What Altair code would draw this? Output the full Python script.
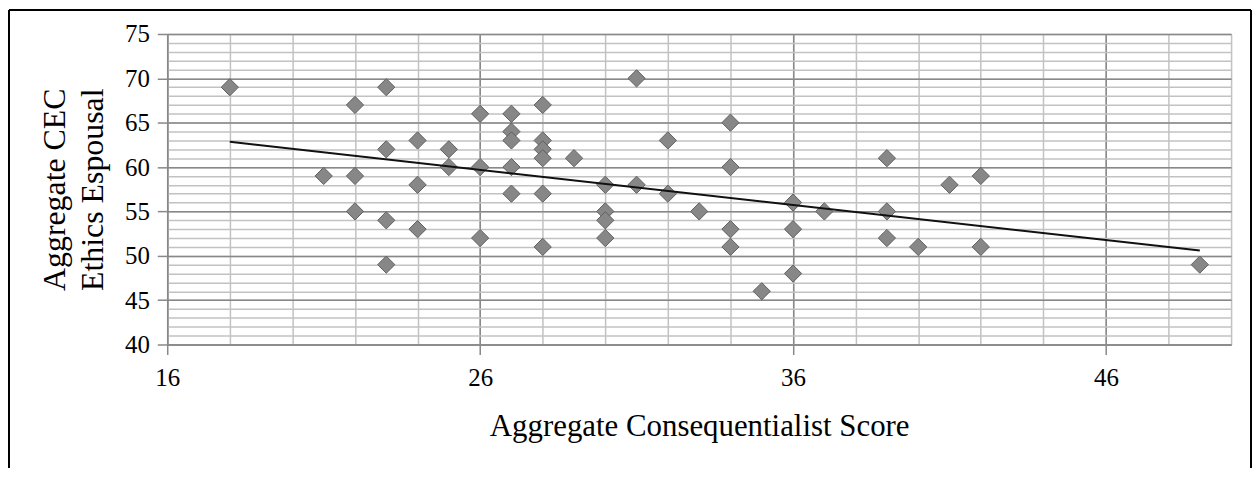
import altair as alt
import pandas as pd

# Aggregate Consequentialist Score (x) and Aggregate CEC Ethics Espousal (y)
score = [18, 21, 22, 22, 22, 23, 23, 23, 23, 24, 24, 24, 25, 25,
         26, 26, 26, 27, 27, 27, 27, 27, 28, 28, 28, 28, 28, 28,
         29, 30, 30, 30, 30, 31, 31, 32, 32, 33, 34, 34, 34, 34,
         35, 36, 36, 36, 37, 39, 39, 39, 40, 41, 42, 42, 49]
espousal = [69, 59, 67, 59, 55, 69, 62, 54, 49, 63, 58, 53, 62, 60,
            66, 60, 52, 66, 64, 63, 60, 57, 67, 63, 62, 61, 57, 51,
            61, 58, 55, 54, 52, 70, 58, 63, 57, 55, 65, 60, 53, 51,
            46, 56, 53, 48, 55, 61, 55, 52, 51, 58, 59, 51, 49]

x_major = [16, 26, 36, 46]
x_minor = list(range(16, 51, 2))
y_major = list(range(40, 76, 5))
y_minor = list(range(40, 76, 1))

df = pd.DataFrame({"score": score, "espousal": espousal})

FONT = "Liberation Serif"
MAJOR = "#888888"
MINOR = "#c2c2c2"

xscale = alt.Scale(domain=[16, 50], nice=False, zero=False)
yscale = alt.Scale(domain=[40, 75], nice=False, zero=False)

minor = alt.Chart(df).mark_point(opacity=0).encode(
    x=alt.X("score:Q", scale=xscale,
            axis=alt.Axis(values=x_minor, grid=True, gridColor=MINOR, gridWidth=1.5,
                          labels=False, ticks=False, domain=False, title=None, orient="bottom")),
    y=alt.Y("espousal:Q", scale=yscale,
            axis=alt.Axis(values=y_minor, grid=True, gridColor=MINOR, gridWidth=1.5,
                          labels=False, ticks=False, domain=False, title=None, orient="left")),
)

points = alt.Chart(df).mark_point(
    shape="diamond", filled=True, size=300, fill="#878787", stroke="#606060",
    strokeWidth=1, opacity=1
).encode(
    x=alt.X("score:Q", scale=xscale,
            axis=alt.Axis(values=x_major, grid=True, gridColor=MAJOR, gridWidth=1.5,
                          domainColor=MAJOR, domainWidth=1.5, tickColor=MAJOR, tickWidth=1.5,
                          tickSize=10, labelPadding=11, labelFlush=False, titlePadding=21,
                          titleFontSize=31,
                          title="Aggregate Consequentialist Score", orient="bottom")),
    y=alt.Y("espousal:Q", scale=yscale,
            axis=alt.Axis(values=y_major, grid=True, gridColor=MAJOR, gridWidth=1.5,
                          domainColor=MAJOR, domainWidth=1.5, tickColor=MAJOR, tickWidth=1.5,
                          tickSize=10, labelPadding=8, titlePadding=15, titleLineHeight=38,
                          titleFontSize=32,
                          title=["Aggregate CEC", "Ethics Espousal"], orient="left")),
)

trend = alt.Chart(df).mark_line(color="#111111", strokeWidth=2).transform_regression(
    "score", "espousal"
).encode(
    x=alt.X("score:Q", scale=xscale, axis=None),
    y=alt.Y("espousal:Q", scale=yscale, axis=None),
)

frame_data = pd.DataFrame({"k": [0]})
left_edge = alt.Chart(frame_data).mark_rule(color="black", strokeWidth=2).encode(
    x=alt.value(-159), y=alt.value(-24), y2=alt.value(436))
top_edge = alt.Chart(frame_data).mark_rule(color="black", strokeWidth=2).encode(
    x=alt.value(-159), x2=alt.value(1089), y=alt.value(-24))
right_edge = alt.Chart(frame_data).mark_rule(color="black", strokeWidth=2).encode(
    x=alt.value(1089), y=alt.value(-24), y2=alt.value(436))

chart = alt.layer(minor, points, trend, left_edge, top_edge, right_edge).resolve_scale(
    x="independent", y="independent"
).properties(
    width=1069, height=312,
    padding={"left": 160, "top": 25, "right": 21, "bottom": 124},
    autosize=alt.AutoSizeParams(type="none"),
    background="white",
).configure_view(stroke=None).configure_axis(
    labelFont=FONT, labelFontSize=25, labelColor="black",
    titleFont=FONT, titleFontSize=30, titleFontWeight="normal", titleColor="black",
)

chart.save("out.html", embed_options={"renderer": "svg", "actions": False})
